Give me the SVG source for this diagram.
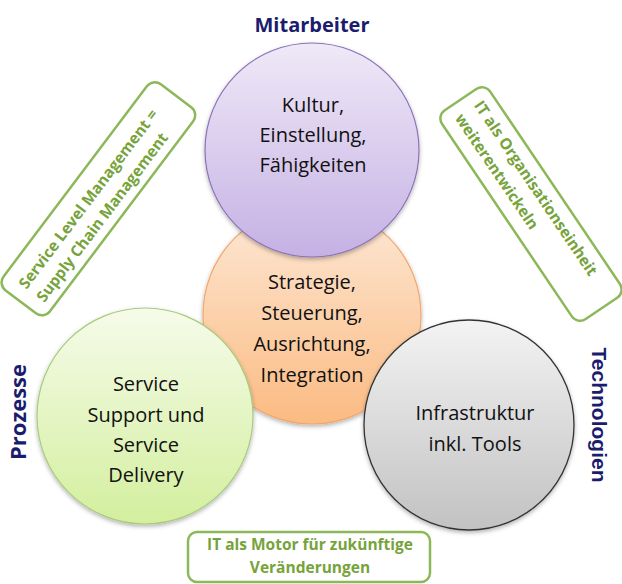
<svg xmlns="http://www.w3.org/2000/svg" width="622" height="584" viewBox="0 0 622 584">
<defs>
<linearGradient id="gPurple" x1="0" y1="0" x2="0" y2="1"><stop offset="0" stop-color="#efe9f7"/><stop offset="1" stop-color="#c5b1e4"/></linearGradient>
<linearGradient id="gOrange" x1="0" y1="0" x2="0" y2="1"><stop offset="0" stop-color="#fde8d6"/><stop offset="1" stop-color="#fbbb82"/></linearGradient>
<linearGradient id="gGreen" x1="0" y1="0" x2="0" y2="1"><stop offset="0" stop-color="#f6fbea"/><stop offset="1" stop-color="#d3ef9e"/></linearGradient>
<linearGradient id="gGray" x1="0" y1="0" x2="0" y2="1"><stop offset="0" stop-color="#f3f3f3"/><stop offset="1" stop-color="#c2c2c2"/></linearGradient>
<filter id="shadow" x="-20%" y="-20%" width="140%" height="140%"><feDropShadow dx="0" dy="2" stdDeviation="2" flood-color="#000" flood-opacity="0.3"/></filter>
</defs>
<style>
.ctext{font-family:"Open Sans","Noto Sans",sans-serif;font-size:20px;fill:#111;text-anchor:middle}
.label{font-family:"Open Sans","Noto Sans",sans-serif;font-weight:bold;fill:#1c1c6e}
.box{fill:#fff;stroke:#8db85a;stroke-width:2.5}
.btext{font-family:"Open Sans","Noto Sans",sans-serif;font-weight:bold;font-size:15.5px;fill:#76a33a}
</style>
<rect width="622" height="584" fill="#fff"/>
<g id="strategie">
<circle cx="312" cy="315" r="109" fill="url(#gOrange)" stroke="#f2a56c" stroke-width="1.2" filter="url(#shadow)"/>
<text class="ctext" x="312" y="289">Strategie,</text>
<text class="ctext" x="312" y="320">Steuerung,</text>
<text class="ctext" x="312" y="351">Ausrichtung,</text>
<text class="ctext" x="312" y="382">Integration</text>
</g>
<g id="kultur">
<circle cx="312" cy="150" r="107" fill="url(#gPurple)" stroke="#8a72b6" stroke-width="1.2" filter="url(#shadow)"/>
<text class="ctext" x="313" y="112">Kultur,</text>
<text class="ctext" x="313" y="142">Einstellung,</text>
<text class="ctext" x="313" y="172">Fähigkeiten</text>
</g>
<g id="service">
<circle cx="145" cy="416" r="108" fill="url(#gGreen)" stroke="#a8cb7c" stroke-width="1.2" filter="url(#shadow)"/>
<text class="ctext" x="146" y="391">Service</text>
<text class="ctext" x="146" y="422">Support und</text>
<text class="ctext" x="146" y="452">Service</text>
<text class="ctext" x="146" y="482">Delivery</text>
</g>
<g id="infrastruktur">
<circle cx="469" cy="425" r="105" fill="url(#gGray)" stroke="#333" stroke-width="1.3" filter="url(#shadow)"/>
<text class="ctext" x="475" y="420">Infrastruktur</text>
<text class="ctext" x="475" y="451">inkl. Tools</text>
</g>
<g id="mitarbeiter">
<text class="label" x="312" y="32" font-size="20" text-anchor="middle">Mitarbeiter</text>
</g>
<g id="prozesse">
<text class="label" font-size="22" text-anchor="middle" transform="translate(26,412) rotate(-90)">Prozesse</text>
</g>
<g id="technologien">
<text class="label" font-size="21" text-anchor="middle" style="font-family:'Liberation Sans',Arial,sans-serif" transform="translate(592,415) rotate(90)">Technologien</text>
</g>
<g id="slm" transform="translate(100,200) rotate(-53)">
<rect class="box" x="-129" y="-31" width="258" height="58" rx="10"/>
<text class="btext" x="-116" y="-4.5">Service Level Management =</text>
<text class="btext" x="-116" y="17.5">Supply Chain Management</text>
</g>
<g id="orgeinheit" transform="translate(531,204) rotate(56)">
<rect class="box" x="-126" y="-29" width="252" height="58" rx="10"/>
<text class="btext" x="-114" y="-7.5">IT als Organisationseinheit</text>
<text class="btext" x="-114" y="15.5">weiterentwickeln</text>
</g>
<g id="motor">
<rect class="box" x="188" y="532" width="242" height="50" rx="9"/>
<text class="btext" x="310" y="550" text-anchor="middle">IT als Motor für zukünftige</text>
<text class="btext" x="310" y="573" text-anchor="middle">Veränderungen</text>
</g>
</svg>
